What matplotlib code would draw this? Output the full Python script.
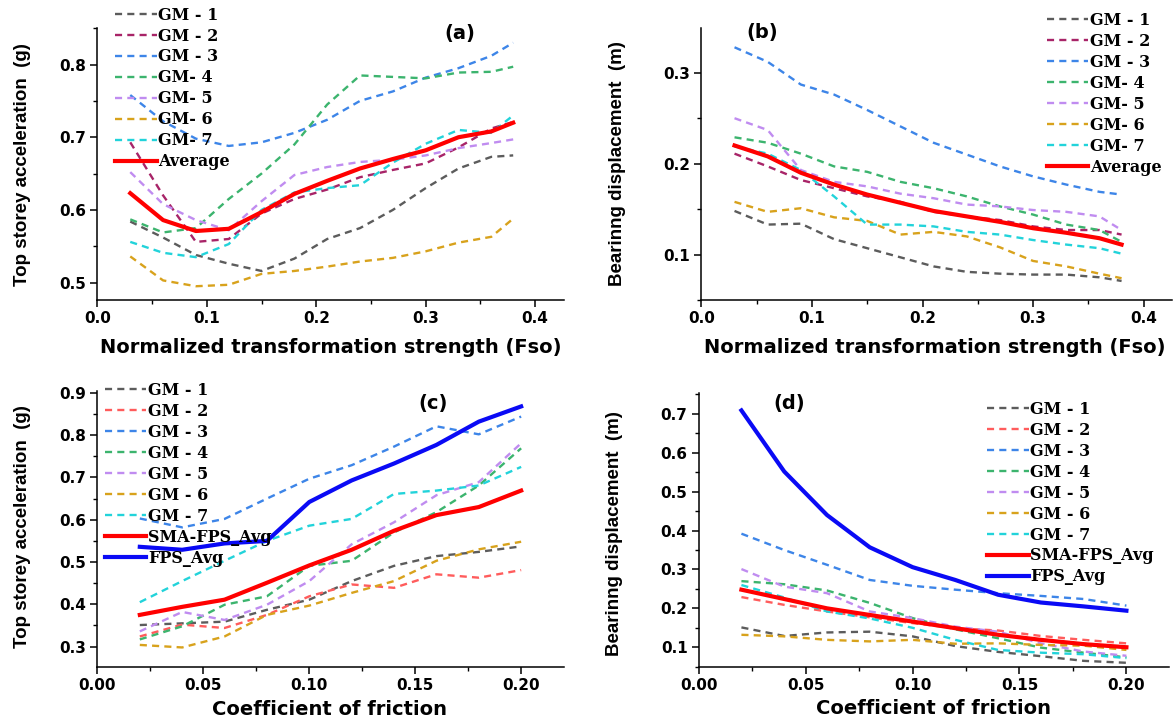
import matplotlib
matplotlib.use('Agg')
import matplotlib.pyplot as plt
from matplotlib.ticker import MultipleLocator, FormatStrFormatter

plt.rcParams['font.family'] = ['DejaVu Sans']
plt.rcParams['font.weight'] = 'bold'

# normalized transformation strength (panels a, b)
fso = [0.03, 0.06, 0.09, 0.12, 0.15, 0.18, 0.21, 0.24, 0.27, 0.30, 0.33, 0.36, 0.38]
# coefficient of friction (panels c, d)
mu = [0.02, 0.04, 0.06, 0.08, 0.10, 0.12, 0.14, 0.16, 0.18, 0.20]

labels_ab = ['GM - 1', 'GM - 2', 'GM - 3', 'GM- 4', 'GM- 5', 'GM- 6', 'GM- 7', 'Average']
labels_cd = ['GM - 1', 'GM - 2', 'GM - 3', 'GM - 4', 'GM - 5', 'GM - 6', 'GM - 7',
             'SMA-FPS_Avg', 'FPS_Avg']

# (a) top storey acceleration (g) vs Fso
a_gm1 = [0.584, 0.562, 0.538, 0.526, 0.516, 0.533, 0.560, 0.575, 0.600, 0.630, 0.657, 0.673, 0.675]
a_gm2 = [0.693, 0.620, 0.556, 0.560, 0.595, 0.615, 0.628, 0.645, 0.655, 0.664, 0.686, 0.712, 0.721]
a_gm3 = [0.758, 0.722, 0.698, 0.688, 0.693, 0.706, 0.724, 0.750, 0.763, 0.782, 0.795, 0.812, 0.830]
a_gm4 = [0.587, 0.569, 0.575, 0.615, 0.650, 0.690, 0.745, 0.785, 0.783, 0.781, 0.789, 0.790, 0.797]
a_gm5 = [0.652, 0.608, 0.586, 0.572, 0.612, 0.648, 0.659, 0.666, 0.669, 0.675, 0.685, 0.692, 0.697]
a_gm6 = [0.536, 0.503, 0.495, 0.497, 0.512, 0.516, 0.522, 0.529, 0.534, 0.543, 0.555, 0.563, 0.588]
a_gm7 = [0.556, 0.541, 0.535, 0.553, 0.600, 0.624, 0.630, 0.634, 0.665, 0.691, 0.710, 0.706, 0.730]
a_avg = [0.623, 0.586, 0.571, 0.574, 0.597, 0.622, 0.640, 0.657, 0.670, 0.682, 0.700, 0.708, 0.720]

# (b) bearing displacement (m) vs Fso
b_gm1 = [0.148, 0.133, 0.134, 0.117, 0.107, 0.097, 0.087, 0.081, 0.079, 0.078, 0.078, 0.075, 0.071]
b_gm2 = [0.211, 0.197, 0.182, 0.173, 0.164, 0.158, 0.147, 0.142, 0.138, 0.131, 0.127, 0.127, 0.122]
b_gm3 = [0.328, 0.312, 0.287, 0.276, 0.259, 0.241, 0.223, 0.210, 0.197, 0.186, 0.177, 0.169, 0.166]
b_gm4 = [0.229, 0.223, 0.211, 0.197, 0.191, 0.180, 0.173, 0.164, 0.153, 0.144, 0.133, 0.127, 0.114]
b_gm5 = [0.250, 0.237, 0.193, 0.180, 0.175, 0.167, 0.162, 0.155, 0.153, 0.149, 0.147, 0.142, 0.127]
b_gm6 = [0.158, 0.147, 0.151, 0.141, 0.137, 0.122, 0.125, 0.120, 0.108, 0.093, 0.087, 0.079, 0.074]
b_gm7 = [0.219, 0.211, 0.193, 0.164, 0.133, 0.133, 0.131, 0.125, 0.122, 0.116, 0.111, 0.107, 0.101]
b_avg = [0.220, 0.208, 0.190, 0.177, 0.166, 0.157, 0.148, 0.142, 0.136, 0.129, 0.124, 0.118, 0.111]

# (c) top storey acceleration (g) vs friction
c_gm1 = [0.351, 0.355, 0.359, 0.387, 0.411, 0.455, 0.491, 0.514, 0.524, 0.537]
c_gm2 = [0.324, 0.352, 0.344, 0.375, 0.419, 0.447, 0.439, 0.471, 0.463, 0.481]
c_gm3 = [0.603, 0.582, 0.602, 0.650, 0.697, 0.729, 0.773, 0.821, 0.802, 0.844]
c_gm4 = [0.317, 0.348, 0.399, 0.419, 0.491, 0.503, 0.570, 0.618, 0.681, 0.769]
c_gm5 = [0.336, 0.382, 0.363, 0.399, 0.455, 0.542, 0.594, 0.658, 0.689, 0.781]
c_gm6 = [0.304, 0.298, 0.324, 0.375, 0.397, 0.427, 0.455, 0.503, 0.530, 0.548]
c_gm7 = [0.405, 0.455, 0.503, 0.550, 0.586, 0.602, 0.661, 0.669, 0.681, 0.725]
c_sma = [0.375, 0.394, 0.411, 0.451, 0.492, 0.529, 0.574, 0.611, 0.630, 0.669]
c_fps = [0.536, 0.529, 0.544, 0.550, 0.642, 0.693, 0.733, 0.777, 0.832, 0.868]

# (d) bearing displacement (m) vs friction
d_gm1 = [0.151, 0.129, 0.138, 0.140, 0.128, 0.103, 0.088, 0.077, 0.065, 0.060]
d_gm2 = [0.229, 0.209, 0.192, 0.177, 0.162, 0.149, 0.143, 0.129, 0.119, 0.110]
d_gm3 = [0.392, 0.350, 0.312, 0.273, 0.258, 0.248, 0.239, 0.232, 0.224, 0.207]
d_gm4 = [0.270, 0.262, 0.246, 0.214, 0.175, 0.146, 0.123, 0.099, 0.086, 0.074]
d_gm5 = [0.301, 0.256, 0.239, 0.192, 0.175, 0.153, 0.140, 0.110, 0.089, 0.078]
d_gm6 = [0.132, 0.128, 0.119, 0.115, 0.119, 0.109, 0.110, 0.106, 0.104, 0.093]
d_gm7 = [0.260, 0.228, 0.192, 0.174, 0.150, 0.119, 0.093, 0.086, 0.082, 0.072]
d_sma = [0.248, 0.224, 0.200, 0.183, 0.166, 0.149, 0.132, 0.119, 0.108, 0.100]
d_fps = [0.709, 0.552, 0.440, 0.357, 0.306, 0.273, 0.235, 0.215, 0.205, 0.194]

gm_colors_ab = ['#5c5c5c', '#a82468', '#3d85e8', '#3cb46e', '#c08cf0', '#d8a21c', '#22d3da']
gm_colors_cd = ['#5c5c5c', '#ff5c5c', '#3d85e8', '#3cb46e', '#c08cf0', '#d8a21c', '#22d3da']
AVG_RED = '#ff0000'
FPS_BLUE = '#0a0af5'

legend_font = dict(family=['DejaVu Serif'], weight='bold', size=11.5)


def style_axes(ax, xlim, ylim, xstep, ystep, xfmt):
  ax.set_xlim(*xlim)
  ax.set_ylim(*ylim)
  for side in ('top', 'right'):
    ax.spines[side].set_visible(False)
  for side in ('left', 'bottom'):
    ax.spines[side].set_linewidth(1.1)
  ax.xaxis.set_major_locator(MultipleLocator(xstep))
  ax.xaxis.set_minor_locator(MultipleLocator(xstep / 2))
  ax.yaxis.set_major_locator(MultipleLocator(ystep))
  ax.yaxis.set_minor_locator(MultipleLocator(ystep / 2))
  ax.xaxis.set_major_formatter(FormatStrFormatter(xfmt))
  ax.yaxis.set_major_formatter(FormatStrFormatter('%.1f'))
  ax.tick_params(which='major', direction='out', length=5, width=1.1, labelsize=11, pad=3)
  ax.tick_params(which='minor', direction='out', length=3, width=1.0)


def draw_panel(ax, x, series, colors, thick, labels, legend_at):
  handles = []
  for ys, c in zip(series, colors):
    h, = ax.plot(x, ys, linestyle='--', dashes=(3.0, 2.2), color=c, linewidth=1.7)
    handles.append(h)
  for ys, c in thick:
    h, = ax.plot(x, ys, linestyle='-', color=c, linewidth=3.0)
    handles.append(h)
  ax.legend(handles, labels, loc='upper left', bbox_to_anchor=legend_at,
            bbox_transform=fig.transFigure, frameon=False, prop=legend_font,
            borderpad=0, borderaxespad=0, handlelength=2.6, handletextpad=0.1,
            labelspacing=0.25)


fig = plt.figure(figsize=(11.74, 7.23), dpi=100)

ax_a = fig.add_axes([0.083, 0.585, 0.397, 0.376])
ax_b = fig.add_axes([0.5974, 0.585, 0.4009, 0.376])
ax_c = fig.add_axes([0.083, 0.077, 0.397, 0.3825])
ax_d = fig.add_axes([0.5951, 0.0779, 0.4008, 0.3781])

draw_panel(ax_a, fso, [a_gm1, a_gm2, a_gm3, a_gm4, a_gm5, a_gm6, a_gm7], gm_colors_ab,
           [(a_avg, AVG_RED)], labels_ab, (0.098, 0.991))
draw_panel(ax_b, fso, [b_gm1, b_gm2, b_gm3, b_gm4, b_gm5, b_gm6, b_gm7], gm_colors_ab,
           [(b_avg, AVG_RED)], labels_ab, (0.8915, 0.984))
draw_panel(ax_c, mu, [c_gm1, c_gm2, c_gm3, c_gm4, c_gm5, c_gm6, c_gm7], gm_colors_cd,
           [(c_sma, AVG_RED), (c_fps, FPS_BLUE)], labels_cd, (0.0894, 0.472))
draw_panel(ax_d, mu, [d_gm1, d_gm2, d_gm3, d_gm4, d_gm5, d_gm6, d_gm7], gm_colors_cd,
           [(d_sma, AVG_RED), (d_fps, FPS_BLUE)], labels_cd, (0.8407, 0.446))

style_axes(ax_a, (0, 0.426), (0.476, 0.85), 0.1, 0.1, '%.1f')
style_axes(ax_b, (0, 0.4256), (0.05, 0.349), 0.1, 0.1, '%.1f')
style_axes(ax_c, (0, 0.22), (0.251, 0.905), 0.05, 0.1, '%.2f')
style_axes(ax_d, (0, 0.22), (0.05, 0.753), 0.05, 0.1, '%.2f')

# axis titles: horizontal ones in DejaVu, vertical ones in Liberation Sans
xlab = dict(fontsize=14, fontweight='bold', ha='center', va='center')
ylab = dict(fontsize=13.5, fontweight='bold', ha='center', va='center',
            rotation=90, family=['Liberation Sans', 'DejaVu Sans'])
fig.text(0.282, 0.5187, 'Normalized transformation strength (Fso)', **xlab)
fig.text(0.7966, 0.5187, 'Normalized transformation strength (Fso)', **xlab)
fig.text(0.281, 0.018, 'Coefficient of friction', **xlab)
fig.text(0.795, 0.0207, 'Coefficient of friction', **xlab)
fig.text(0.0193, 0.772, 'Top storey acceleration  (g)', **ylab)
fig.text(0.5264, 0.774, 'Bearinng displacement  (m)', **ylab)
fig.text(0.0193, 0.2718, 'Top storey acceleration  (g)', **ylab)
fig.text(0.5234, 0.262, 'Bearinng displacement  (m)', **ylab)

# panel tags
tag = dict(fontsize=14, fontweight='bold', ha='center', va='center')
fig.text(0.3914, 0.953, '(a)', **tag)
fig.text(0.6488, 0.955, '(b)', **tag)
fig.text(0.3688, 0.442, '(c)', **tag)
fig.text(0.672, 0.4426, '(d)', **tag)

fig.savefig('out.png', dpi=100)
